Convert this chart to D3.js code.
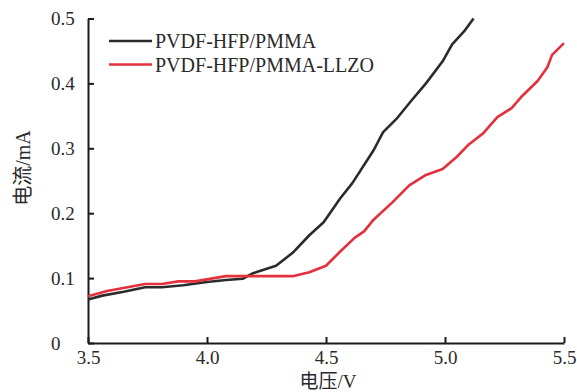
<!DOCTYPE html>
<html>
<head>
<meta charset="utf-8">
<script src="https://cdn.jsdelivr.net/npm/d3@7"></script>
<style>
    body { margin: 0; background: #fff; }
    svg { display: block; font-family: "Liberation Serif", "Noto Sans CJK SC", serif; }
    .axis path, .axis line { stroke: #1a1a1a; stroke-width: 2; }
    .axis text { font-size: 19px; fill: #2a2a2a; font-family: "Liberation Serif", serif; }
</style>
</head>
<body>
<svg id="chart"></svg>
<script>
// voltage (V) / current (mA)
const voltsPlain = [3.50, 3.56, 3.65, 3.74, 3.81, 3.90, 4.00, 4.08, 4.15, 4.19, 4.29, 4.36, 4.43, 4.49, 4.52, 4.56, 4.61, 4.70, 4.74, 4.80, 4.86, 4.92, 4.99, 5.03, 5.08, 5.12]
const currentPlain = [0.067, 0.073, 0.079, 0.086, 0.086, 0.089, 0.094, 0.097, 0.099, 0.107, 0.119, 0.139, 0.166, 0.186, 0.202, 0.223, 0.246, 0.297, 0.325, 0.347, 0.374, 0.400, 0.434, 0.460, 0.480, 0.500]

const voltsLlzo = [3.50, 3.58, 3.74, 3.81, 3.88, 3.95, 4.08, 4.36, 4.43, 4.50, 4.56, 4.62, 4.66, 4.70, 4.78, 4.85, 4.92, 4.99, 5.05, 5.10, 5.16, 5.22, 5.28, 5.32, 5.39, 5.43, 5.45, 5.50]
const currentLlzo = [0.072, 0.080, 0.091, 0.091, 0.095, 0.095, 0.103, 0.103, 0.109, 0.119, 0.141, 0.162, 0.172, 0.190, 0.217, 0.243, 0.259, 0.268, 0.287, 0.306, 0.323, 0.348, 0.362, 0.379, 0.404, 0.425, 0.444, 0.462]

const seriesNames = ['PVDF-HFP/PMMA', 'PVDF-HFP/PMMA-LLZO']
const seriesColors = ['#2b2b2b', '#e3303c']

const xTicks = [3.5, 4.0, 4.5, 5.0, 5.5]
const yTicks = [0, 0.1, 0.2, 0.3, 0.4, 0.5]
const xLabel = '电压/V'
const yLabel = '电流/mA'

class LineChart {

    constructor(_config, _data) {
        this.config = {
            parentElement: _config.parentElement,
            containerWidth: _config.containerWidth || 577,
            containerHeight: _config.containerHeight || 392,
            margin: { top: 18.5, right: 13, bottom: 49, left: 88 }
        }

        this.data = _data

        this.initVis()
    }

    initVis() {
        let vis = this

        vis.width = vis.config.containerWidth - vis.config.margin.left - vis.config.margin.right
        vis.height = vis.config.containerHeight - vis.config.margin.top - vis.config.margin.bottom

        vis.svg = d3.select(vis.config.parentElement)
            .attr('width', vis.config.containerWidth)
            .attr('height', vis.config.containerHeight)

        vis.chart = vis.svg.append('g')
            .attr('transform', `translate(${vis.config.margin.left}, ${vis.config.margin.top})`)

        vis.xScale = d3.scaleLinear()
            .domain([3.5, 5.5])
            .range([0, vis.width])

        vis.yScale = d3.scaleLinear()
            .domain([0, 0.5])
            .range([vis.height, 0])

        vis.xAxis = d3.axisBottom(vis.xScale)
            .tickValues(xTicks)
            .tickFormat(d3.format('.1f'))
            .tickSizeInner(-6)
            .tickSizeOuter(0)
            .tickPadding(8)

        vis.yAxis = d3.axisLeft(vis.yScale)
            .tickValues(yTicks)
            .tickFormat(d => d === 0 ? '0' : d3.format('.1f')(d))
            .tickSizeInner(-6)
            .tickSizeOuter(0)
            .tickPadding(11)

        vis.xAxisGroup = vis.chart.append('g')
            .attr('class', 'axis x-axis')
            .attr('transform', `translate(0, ${vis.height})`)

        vis.yAxisGroup = vis.chart.append('g')
            .attr('class', 'axis y-axis')

        vis.updateVis()
    }

    updateVis() {
        let vis = this

        vis.line = d3.line()
            .x(d => vis.xScale(d.v))
            .y(d => vis.yScale(d.i))

        vis.renderVis()
    }

    renderVis() {
        let vis = this

        vis.xAxisGroup.call(vis.xAxis)
        vis.yAxisGroup.call(vis.yAxis)

        // labels start-aligned like the original
        vis.yAxisGroup.selectAll('.tick text')
            .attr('text-anchor', 'start')
            .attr('x', -37)

        vis.chart.selectAll('.chart-line')
            .data(vis.data)
            .join('path')
            .attr('class', 'chart-line')
            .attr('fill', 'none')
            .attr('stroke', (d, i) => seriesColors[i])
            .attr('stroke-width', 2.6)
            .attr('stroke-linejoin', 'round')
            .attr('d', d => vis.line(d.values))

        // legend
        let legend = vis.svg.append('g')
            .attr('transform', 'translate(109, 41)')

        seriesNames.forEach((name, i) => {
            let row = legend.append('g').attr('transform', `translate(0, ${i * 23.5})`)
            row.append('line')
                .attr('x1', 0).attr('x2', 43)
                .attr('stroke', seriesColors[i])
                .attr('stroke-width', 2.6)
            row.append('text')
                .attr('x', 46)
                .attr('y', 7)
                .attr('font-size', 20)
                .attr('fill', '#2a2a2a')
                .text(name)
        })

        vis.svg.append('text')
            .attr('x', vis.config.margin.left + vis.xScale(4.5) + 2)
            .attr('y', 388)
            .attr('text-anchor', 'middle')
            .attr('font-size', 19)
            .attr('fill', '#2a2a2a')
            .text(xLabel)

        vis.svg.append('text')
            .attr('transform', 'translate(30, 168) rotate(-90)')
            .attr('text-anchor', 'middle')
            .attr('font-size', 20)
            .attr('fill', '#2a2a2a')
            .text(yLabel)
    }
}

const data = [
    { values: voltsPlain.map((v, j) => ({ v: v, i: currentPlain[j] })) },
    { values: voltsLlzo.map((v, j) => ({ v: v, i: currentLlzo[j] })) }
]

new LineChart({ parentElement: '#chart' }, data)
</script>
</body>
</html>
